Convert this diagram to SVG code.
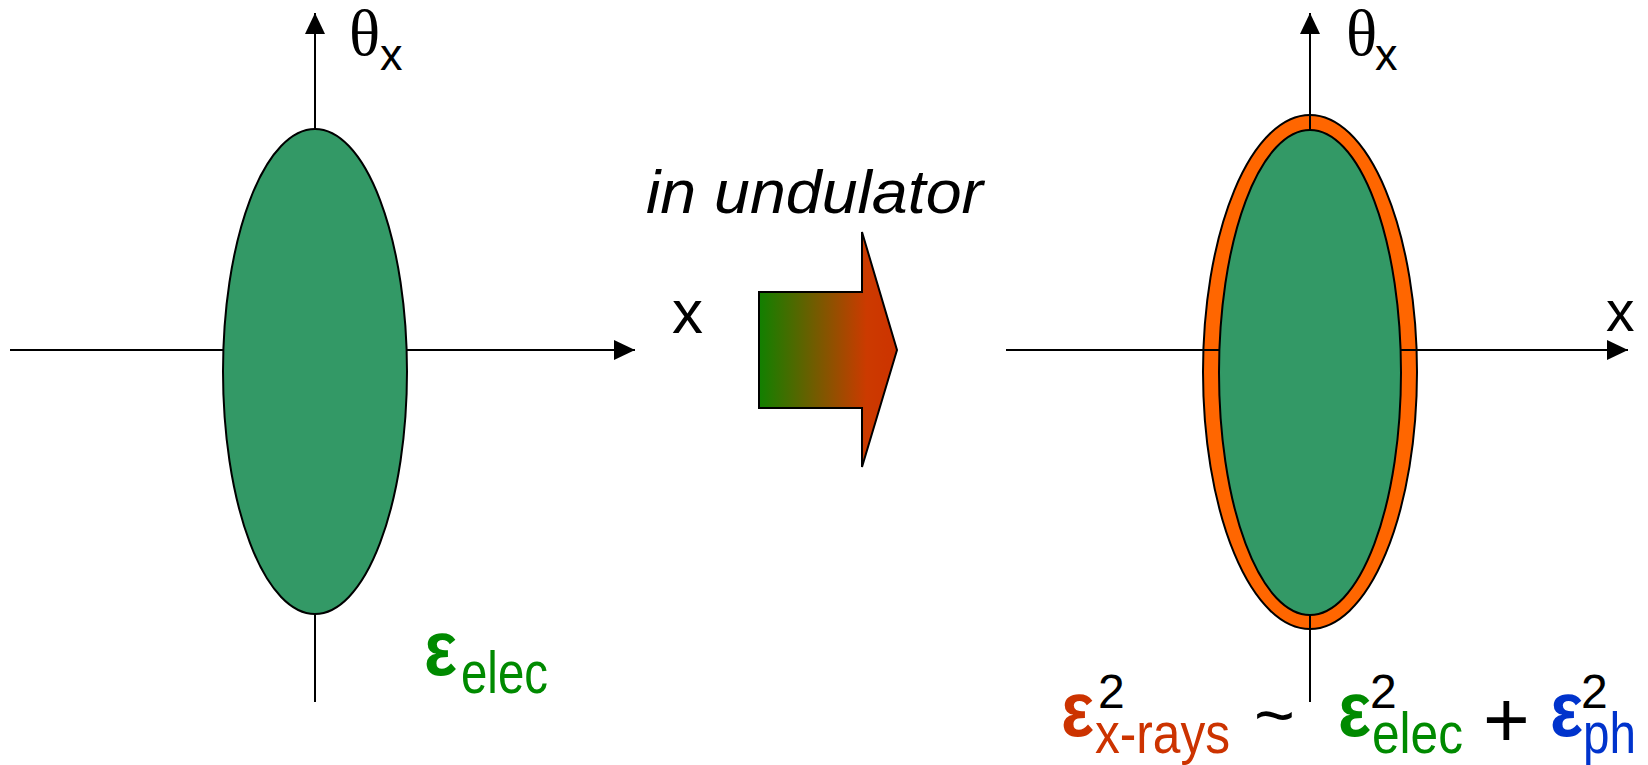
<svg xmlns="http://www.w3.org/2000/svg" width="1648" height="765" viewBox="0 0 1648 765">
<style>
.ax{stroke:#000;stroke-width:2;fill:none}
.ell{stroke:#000;stroke-width:2}
.sans{font-family:"Liberation Sans",Arial,sans-serif}
.serif{font-family:"Liberation Serif","Times New Roman",serif}
.eps{font-family:"Liberation Sans",Arial,sans-serif;font-weight:bold;font-size:78px}
.red{fill:#cc3300}.grn{fill:#008a00}.blu{fill:#0033cc}.blk{fill:#000}
</style>
<defs>
<marker id="ah" markerWidth="21" markerHeight="20" refX="21" refY="10" orient="auto" markerUnits="userSpaceOnUse">
<path d="M0,0 L21,10 L0,20 Z" fill="#000"/>
</marker>
<linearGradient id="g" gradientUnits="userSpaceOnUse" x1="759" y1="0" x2="897" y2="0">
<stop offset="0" stop-color="#118000"/>
<stop offset="0.78" stop-color="#cc3a00"/>
<stop offset="1" stop-color="#cc3300"/>
</linearGradient>
</defs>
<g id="left-plot">
<g id="left-axes">
<line class="ax" x1="10" y1="350" x2="635" y2="350" marker-end="url(#ah)"/>
<line class="ax" x1="315" y1="702" x2="315" y2="13" marker-end="url(#ah)"/>
</g>
<ellipse id="left-ellipse" class="ell" cx="315" cy="371.5" rx="92" ry="242.5" fill="#339966"/>
<text class="serif blk" x="349" y="55" font-size="65">θ</text>
<text class="sans blk" x="380" y="70" font-size="45">x</text>
<g id="left-label">
<text class="eps grn" x="424" y="675" textLength="33" lengthAdjust="spacingAndGlyphs">ε</text>
<text class="sans grn" x="461" y="693" font-size="60" textLength="87" lengthAdjust="spacingAndGlyphs">elec</text>
</g>
</g>
<g id="middle">
<text class="sans blk" x="646" y="213" font-size="62" font-style="italic" textLength="337" lengthAdjust="spacingAndGlyphs">in undulator</text>
<text class="sans blk" x="672" y="333" font-size="62">x</text>
<path id="big-arrow" d="M759,292 L862,292 L862,232 L897,350 L862,467 L862,408 L759,408 Z" fill="url(#g)" stroke="#000" stroke-width="2"/>
</g>
<g id="right-plot">
<ellipse id="outer-ellipse" class="ell" cx="1310" cy="372" rx="107" ry="257" fill="#ff6600"/>
<g id="right-axes">
<line class="ax" x1="1006" y1="350" x2="1628" y2="350" marker-end="url(#ah)"/>
<line class="ax" x1="1310" y1="702" x2="1310" y2="13" marker-end="url(#ah)"/>
</g>
<ellipse id="inner-ellipse" class="ell" cx="1310" cy="372.5" rx="91" ry="242.5" fill="#339966"/>
<text class="serif blk" x="1346" y="55" font-size="65">θ</text>
<text class="sans blk" x="1375" y="70" font-size="45">x</text>
<text class="sans blk" x="1606" y="331" font-size="57">x</text>
<g id="formula">
<text class="eps red" x="1061" y="736" textLength="33" lengthAdjust="spacingAndGlyphs">ε</text>
<text class="sans blk" x="1098" y="708" font-size="48">2</text>
<text class="sans red" x="1095" y="753" font-size="58" textLength="135" lengthAdjust="spacingAndGlyphs">x-rays</text>
<text class="sans blk" x="1254" y="739" font-size="70">~</text>
<text class="eps grn" x="1338" y="736" textLength="33" lengthAdjust="spacingAndGlyphs">ε</text>
<text class="sans blk" x="1370" y="708" font-size="48">2</text>
<text class="sans grn" x="1372" y="753" font-size="58" textLength="91" lengthAdjust="spacingAndGlyphs">elec</text>
<text class="sans blk" x="1483" y="747" font-size="80">+</text>
<text class="eps blu" x="1550" y="736" textLength="33" lengthAdjust="spacingAndGlyphs">ε</text>
<text class="sans blk" x="1581" y="708" font-size="48">2</text>
<text class="sans blu" x="1583" y="753" font-size="58" textLength="53" lengthAdjust="spacingAndGlyphs">ph</text>
</g>
</g>
</svg>
